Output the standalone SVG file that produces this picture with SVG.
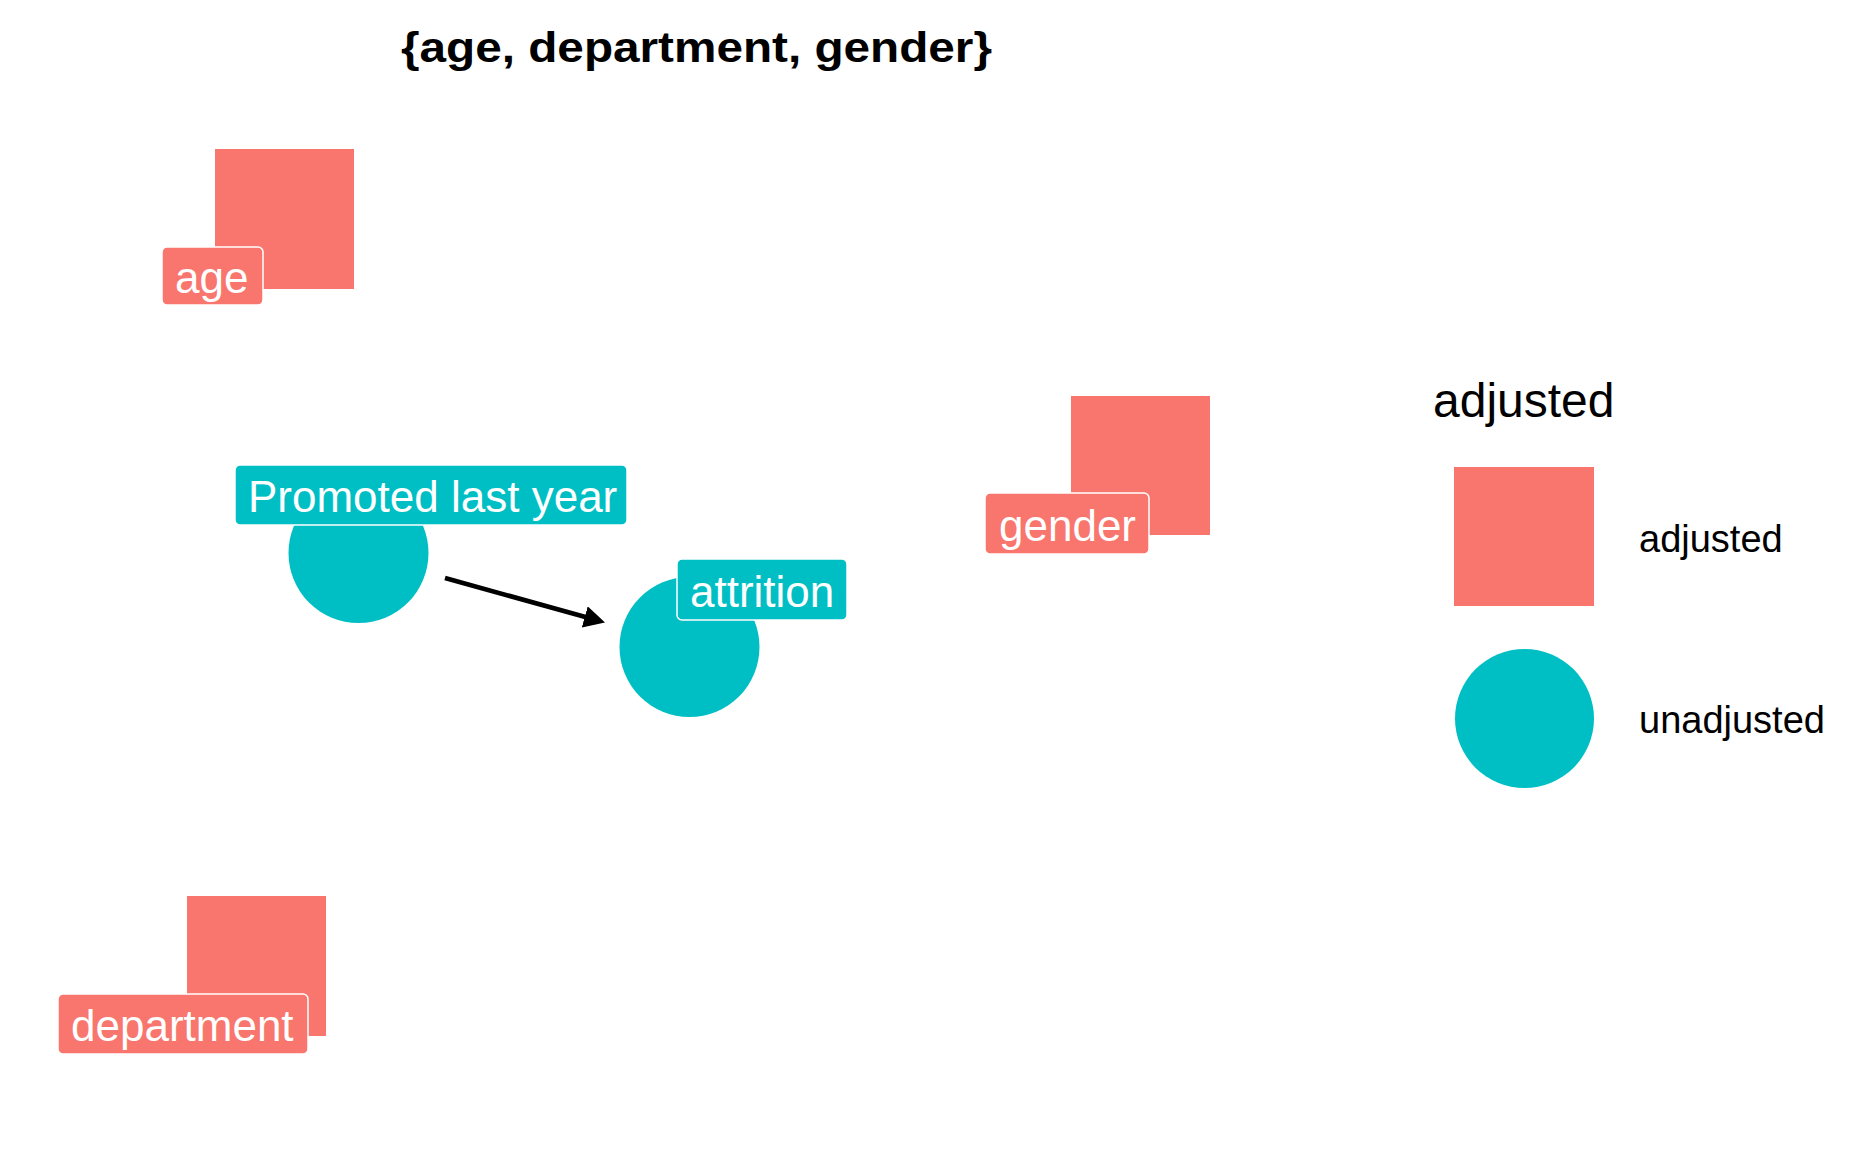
<svg xmlns="http://www.w3.org/2000/svg" width="1872" height="1152" viewBox="0 0 1872 1152">
<style>
.adj{fill:#F8766D}
.unadj{fill:#00BFC4}
.lbl{stroke:#ffffff;stroke-width:1.5}
.lt{font-family:"Liberation Sans",Arial,sans-serif;font-size:44px;fill:#ffffff}
.leg{font-family:"Liberation Sans",Arial,sans-serif;fill:#000000}
</style>
<defs>
<marker id="arr" markerUnits="userSpaceOnUse" markerWidth="22" markerHeight="22" refX="10" refY="11" orient="auto">
<path d="M0,0 L21,11 L0,22 z" fill="#000000"/>
</marker>
</defs>
<rect width="1872" height="1152" fill="#ffffff"/>
<text x="401" y="62" font-family="Liberation Sans,Arial,sans-serif" font-weight="bold" font-size="43" textLength="591" lengthAdjust="spacingAndGlyphs">{age, department, gender}</text>
<g id="connectors">
<line x1="445" y1="578" x2="594.4" y2="619.6" stroke="#000000" stroke-width="4.7" marker-end="url(#arr)"/>
</g>
<g id="node-age">
<rect class="adj" x="215" y="149" width="139" height="140"/>
<rect class="adj lbl" x="162" y="247" width="101" height="58" rx="5"/>
<text class="lt" x="175" y="293">age</text>
</g>
<g id="node-gender">
<rect class="adj" x="1071" y="396" width="139" height="139"/>
<rect class="adj lbl" x="985" y="493" width="164" height="61" rx="5"/>
<text class="lt" x="999" y="541">gender</text>
</g>
<g id="node-department">
<rect class="adj" x="187" y="896" width="139" height="140"/>
<rect class="adj lbl" x="58" y="994" width="250" height="60" rx="5"/>
<text class="lt" x="71" y="1041">department</text>
</g>
<g id="node-promoted">
<circle class="unadj" cx="358.5" cy="553" r="70"/>
<rect class="unadj lbl" x="235" y="465" width="392" height="60" rx="5"/>
<text class="lt" x="248" y="512">Promoted last year</text>
</g>
<g id="node-attrition">
<circle class="unadj" cx="689.5" cy="647" r="70"/>
<rect class="unadj lbl" x="677" y="559" width="170" height="61" rx="5"/>
<text class="lt" x="690" y="607">attrition</text>
</g>
<g id="legend">
<text class="leg" x="1433" y="417" font-size="48">adjusted</text>
<rect class="adj" x="1454" y="467" width="140" height="139"/>
<text class="leg" x="1639" y="552" font-size="38">adjusted</text>
<circle class="unadj" cx="1524.5" cy="718.5" r="69.5"/>
<text class="leg" x="1639" y="733" font-size="38">unadjusted</text>
</g>
</svg>
